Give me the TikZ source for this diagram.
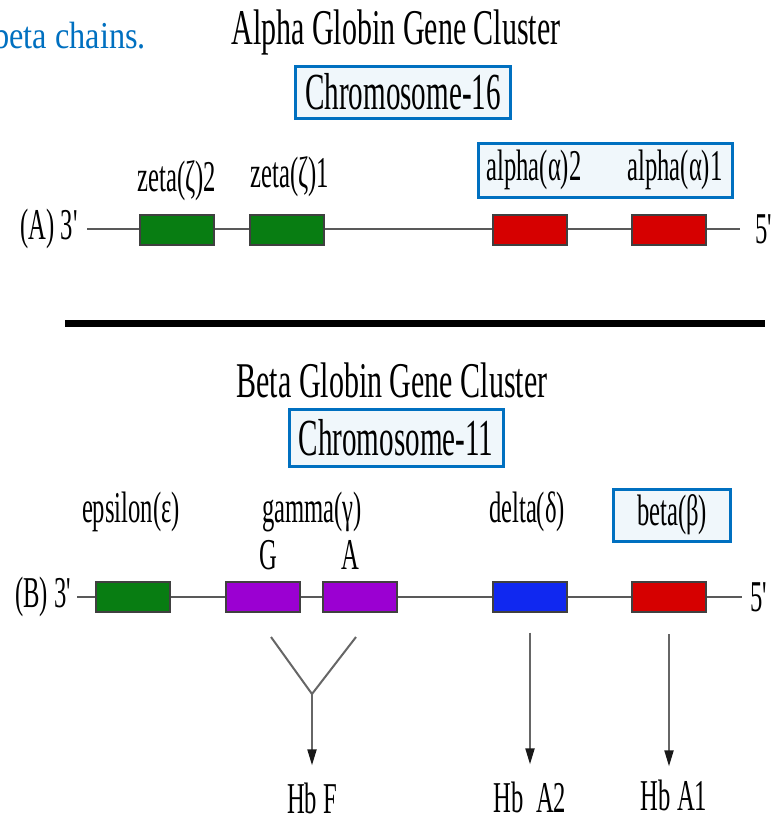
\documentclass[tikz,border=0pt]{standalone}
\usepackage{fontspec}
\setmainfont{Liberation Serif}[FakeStretch=0.56, Ligatures=TeXOff]
\newfontfamily\titlefam{Liberation Serif}[FakeStretch=0.6, Ligatures=TeXOff]
\newfontfamily\notefont{Liberation Serif}[FakeStretch=0.85]
\usepackage{xcolor}
\usepackage{tikz}
\usetikzlibrary{arrows.meta, positioning}
\definecolor{hlblue}{RGB}{0,112,192}
\definecolor{hlfill}{RGB}{240,247,251}
\definecolor{zetagreen}{RGB}{8,125,18}
\definecolor{alphared}{RGB}{214,0,0}
\definecolor{gammapurple}{RGB}{155,0,210}
\definecolor{deltablue}{RGB}{16,40,240}
\tikzset{
    gene/.style={rectangle, draw=black!75, line width=1.2pt, minimum width=74pt, minimum height=30pt, inner sep=0pt},
    hilite/.style={rectangle, draw=hlblue, line width=3pt, fill=hlfill, inner sep=0pt, text centered},
    chrom/.style={draw=black!65, line width=2.2pt},
    expr/.style={-{Triangle[length=16pt, width=9pt, color=black!90]}, draw=black!60, line width=2pt},
    title/.style={font=\titlefam\fontsize{50}{52}\selectfont, inner sep=0pt},
    label/.style={font=\fontsize{44}{46}\selectfont, inner sep=0pt}
}

\begin{document}
\begin{tikzpicture}[x=1pt, y=-1pt]
    \clip (0,0) rectangle (773,822);
    % note fragment
    \node[anchor=base east, inner sep=0pt, text=hlblue, font=\notefont\fontsize{38}{40}\selectfont] (note) at (146,48) {beta chains.};

    % Alpha cluster
    \node[title] (alphatitle) at (396,32) {Alpha Globin Gene Cluster};
    \node[hilite, minimum width=215pt, minimum height=52pt, font=\fontsize{52}{54}\selectfont] (chr16) at (403,92) {Chromosome-16};
    \node[hilite, minimum width=254pt, minimum height=54pt] (alphabox) at (605,170) {};

    \coordinate (A3) at (87,229);
    \coordinate (A5) at (740,229);
    \draw[chrom] (A3) -- (A5);
    \node[label] (lblA) at (49,229) {(A) 3'};
    \node[label] (endA) at (764,229) {5'};

    \node[gene, fill=zetagreen] (zeta2) at (177,230) {};
    \node[gene, fill=zetagreen] (zeta1) at (287,230) {};
    \node[gene, fill=alphared] (alpha2) at (530,230) {};
    \node[gene, fill=alphared] (alpha1) at (669,230) {};

    \node[label] (zeta2lbl) at (177,181) {zeta(ζ)2};
    \node[label] (zeta1lbl) at (290,177) {zeta(ζ)1};
    \node[label] (alpha2lbl) at (534,170) {alpha(α)2};
    \node[label] (alpha1lbl) at (675,170) {alpha(α)1};

    % separator
    \coordinate (sepL) at (65,323);
    \coordinate (sepR) at (765,323);
    \draw[line width=7pt] (sepL) -- (sepR);

    % Beta cluster
    \node[title] (betatitle) at (392,380) {Beta Globin Gene Cluster};
    \node[hilite, minimum width=214pt, minimum height=57pt, font=\fontsize{52}{54}\selectfont] (chr11) at (396,438) {Chromosome-11};

    \coordinate (B3) at (77,597);
    \coordinate (B5) at (742,597);
    \draw[chrom] (B3) -- (B5);
    \node[label] (lblB) at (43,597) {(B) 3'};
    \node[label] (endB) at (759,597) {5'};

    \node[gene, fill=zetagreen] (eps) at (133,597) {};
    \node[gene, fill=gammapurple] (gamG) at (263,597) {};
    \node[gene, fill=gammapurple] (gamA) at (360,597) {};
    \node[gene, fill=deltablue] (delta) at (530,597) {};
    \node[gene, fill=alphared] (beta) at (669,597) {};

    \node[label] (epslbl) at (131,512) {epsilon(ε)};
    \node[label] (gamlbl) at (312,512) {gamma(γ)};
    \node[label] (Glbl) at (268,555) {G};
    \node[label] (Albl) at (350,555) {A};
    \node[label] (deltalbl) at (527,512) {delta(δ)};
    \node[hilite, minimum width=117pt, minimum height=52pt, font=\fontsize{44}{46}\selectfont] (betalbl) at (672,515) {beta(β)};

    % Products
    \node[label] (hbf) at (312,798) {Hb F};
    \node[label] (hba2) at (530,797) {Hb\ \ A2};
    \node[label] (hba1) at (674,795) {Hb A1};

    \coordinate (forkG) at (271,637);
    \coordinate (forkA) at (356,637);
    \coordinate (forkJ) at (312,694);
    \draw[draw=black!60, line width=2pt] (forkG) -- (forkJ) -- (forkA);
    \draw[expr, shorten >=17pt] (forkJ) -- (hbf);
    \draw[expr, shorten <=20pt, shorten >=17pt] (delta.south -| hba2) -- (hba2);
    \draw[expr, shorten <=22pt, shorten >=13pt] (beta) ++(0,15) -- (hba1.north -| beta);
\end{tikzpicture}
\end{document}
